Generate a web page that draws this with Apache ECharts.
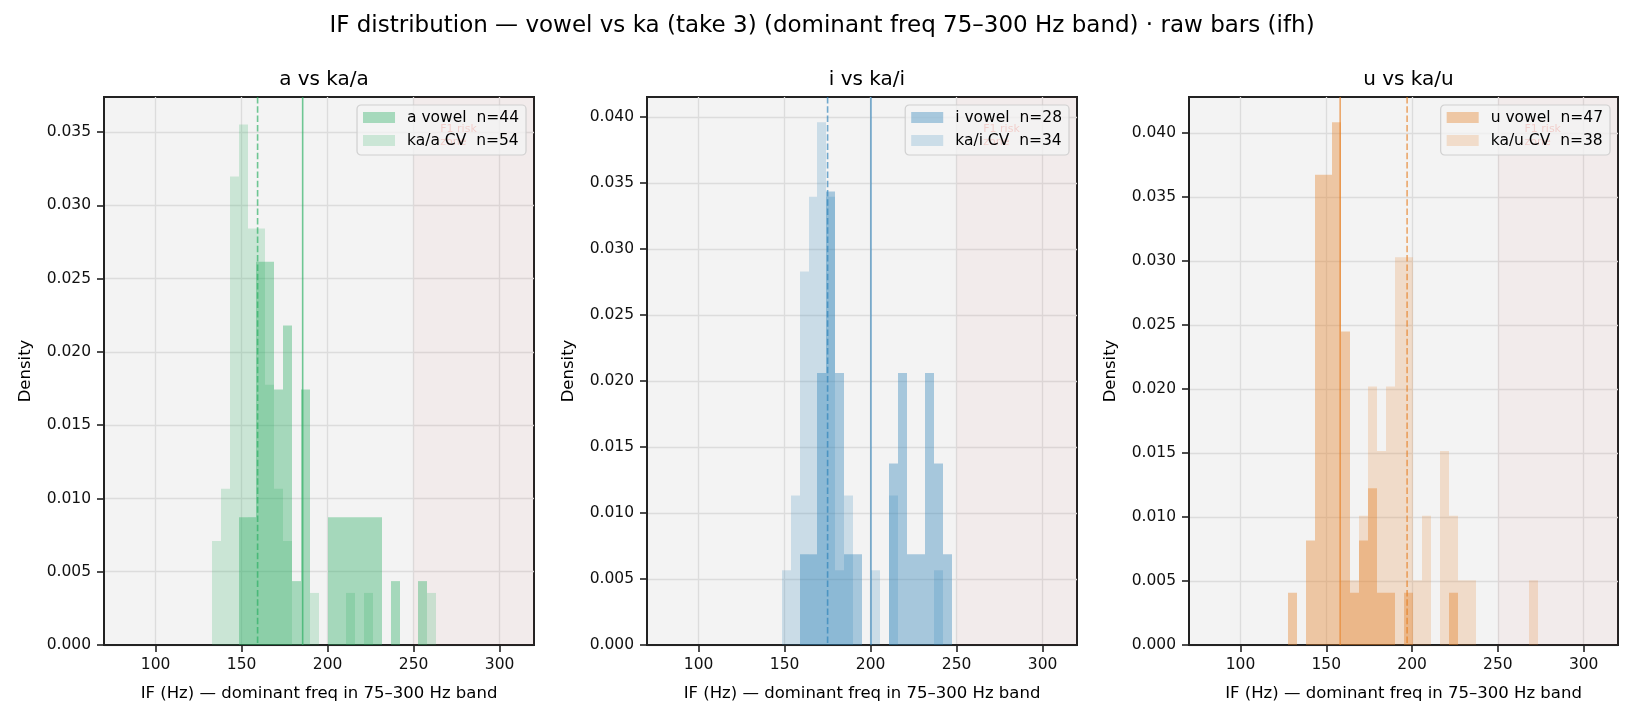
<!DOCTYPE html>
<html>
<head>
<meta charset="utf-8">
<title>IF distribution — vowel vs ka</title>
<script src="https://cdn.jsdelivr.net/npm/echarts@6/dist/echarts.min.js"></script>
<style>
  html, body { margin: 0; padding: 0; background: #fff; }
  #chart { width: 1634px; height: 719px; }
</style>
</head>
<body>
<div id="chart"></div>
<script>
// values
const suptitle = 'IF distribution — vowel vs ka (take 3) (dominant freq 75–300 Hz band) · raw bars (ifh)';
const xLabel = 'IF (Hz) — dominant freq in 75–300 Hz band';
const xRange = [70, 320];
const xTicks = [100, 150, 200, 250, 300];
const f1Zone = [250, 320];
const f1LabelX = 265.5;
const f1LabelFrac = 0.9525;   // top of the label, as a share of the y range

// a vs ka/a  (25 bins)
const aBinRange = [132.6, 262.9];
const aVowelCounts = [0, 0, 0, 2, 2, 6, 6, 4, 5, 1, 4, 0, 0, 2, 2, 2, 2, 2, 2, 0, 1, 0, 0, 1, 0];
const kaACounts    = [2, 3, 9, 10, 8, 8, 5, 3, 2, 0, 0, 1, 0, 0, 0, 1, 0, 1, 0, 0, 0, 0, 0, 0, 1];
const aMedians = [185.5, 159.3];          // vowel, ka
const aYMax = 0.0374;
const aYTicks = [0, 0.005, 0.01, 0.015, 0.02, 0.025, 0.03, 0.035];

// i vs ka/i  (19 bins)
const iBinRange = [148.3, 247.1];
const iVowelCounts = [0, 0, 1, 1, 3, 5, 3, 1, 1, 0, 0, 0, 2, 3, 1, 1, 3, 2, 1];
const kaICounts    = [1, 2, 5, 6, 7, 6, 1, 2, 0, 0, 1, 0, 2, 0, 0, 0, 0, 1, 0];
const iMedians = [200.2, 175.0];
const iYMax = 0.0415;
const iYTicks = [0, 0.005, 0.01, 0.015, 0.02, 0.025, 0.03, 0.035, 0.04];

// u vs ka/u  (28 bins)
const uBinRange = [127.5, 273.45];
const uVowelCounts = [1, 0, 2, 9, 9, 10, 6, 1, 2, 3, 1, 1, 0, 1, 0, 0, 0, 0, 1, 0, 0, 0, 0, 0, 0, 0, 0, 0];
const kaUCounts    = [0, 0, 0, 0, 0, 0, 1, 1, 2, 4, 3, 4, 6, 6, 1, 2, 0, 3, 2, 1, 1, 0, 0, 0, 0, 0, 0, 1];
const uMedians = [158.1, 197.1];
const uYMax = 0.0428;
const uYTicks = [0, 0.005, 0.01, 0.015, 0.02, 0.025, 0.03, 0.035, 0.04];

const FONT = 'DejaVu Sans';
const W = 1634;
const TOP = 97, HEIGHT = 548;

const panels = [
  { title: 'a vs ka/a', left: 104, width: 430, rgb: '39,174,96', range: aBinRange,
    vowel: aVowelCounts, ka: kaACounts, medians: aMedians, yMax: aYMax, yTicks: aYTicks,
    names: ['a vowel  n=44', 'ka/a CV  n=54'] },
  { title: 'i vs ka/i', left: 647, width: 430, rgb: '41,128,185', range: iBinRange,
    vowel: iVowelCounts, ka: kaICounts, medians: iMedians, yMax: iYMax, yTicks: iYTicks,
    names: ['i vowel  n=28', 'ka/i CV  n=34'] },
  { title: 'u vs ka/u', left: 1189, width: 429, rgb: '230,126,34', range: uBinRange,
    vowel: uVowelCounts, ka: kaUCounts, medians: uMedians, yMax: uYMax, yTicks: uYTicks,
    names: ['u vowel  n=47', 'ka/u CV  n=38'] }
];

// density histogram: count / (n * binWidth)
function histRows(range, counts) {
  const w = (range[1] - range[0]) / counts.length;
  const n = counts.reduce((s, c) => s + c, 0);
  const rows = [];
  counts.forEach((c, k) => {
    if (c > 0) rows.push([range[0] + k * w, range[0] + (k + 1) * w, c / (n * w)]);
  });
  return rows;
}

function renderBar(params, api) {
  const p0 = api.coord([api.value(0), api.value(2)]);
  const p1 = api.coord([api.value(1), 0]);
  const x0 = Math.round(p0[0]), x1 = Math.round(p1[0]);
  return {
    type: 'rect',
    shape: { x: x0, y: p0[1], width: x1 - x0, height: p1[1] - p0[1] },
    style: { fill: api.visual('color') }
  };
}

function renderZone(params, api) {
  const cs = params.coordSys;
  const xa = api.coord([api.value(0), 0])[0];
  const xb = api.coord([api.value(1), 0])[0];
  const t = api.coord([api.value(2), api.value(3)]);
  return {
    type: 'group',
    children: [
      { type: 'rect', shape: { x: xa, y: cs.y, width: xb - xa, height: cs.height },
        style: { fill: 'rgba(231,76,60,0.045)' } },
      { type: 'text', x: t[0], y: t[1],
        style: { text: 'F1 risk\nzone', fill: '#e74c3c', fontSize: 11,
                 fontFamily: FONT, align: 'left', verticalAlign: 'top', lineHeight: 12.5 } }
    ]
  };
}

function renderMedian(params, api) {
  const cs = params.coordSys;
  const x = api.coord([api.value(0), 0])[0];
  const dashed = api.value(1) === 1;
  return {
    type: 'line',
    shape: { x1: x, y1: cs.y, x2: x, y2: cs.y + cs.height },
    style: { stroke: api.visual('color'), lineWidth: 1.6, lineDash: dashed ? [6.5, 2.8] : null }
  };
}

const grid = [], xAxis = [], yAxis = [], legend = [], series = [];
const title = [{
  text: suptitle, left: W / 2, top: 10, textAlign: 'center',
  textStyle: { fontFamily: FONT, fontSize: 23, fontWeight: 'normal', color: '#000' }
}];

panels.forEach((p, i) => {
  grid.push({ left: p.left, top: TOP, width: p.width, height: HEIGHT, show: true,
              backgroundColor: '#f3f3f3', borderColor: '#222', borderWidth: 2 });
  title.push({ text: p.title, left: p.left + p.width / 2, top: 65, textAlign: 'center',
               textStyle: { fontFamily: FONT, fontSize: 20, fontWeight: 'normal', color: '#000' } });
  xAxis.push({
    type: 'value', gridIndex: i, min: xRange[0], max: xRange[1],
    name: xLabel, nameLocation: 'middle', nameGap: 40,
    nameTextStyle: { fontFamily: FONT, fontSize: 16.5, color: '#000' },
    axisLine: { show: true, onZero: false, lineStyle: { color: '#222', width: 2 } },
    axisTick: { show: true, length: 7, customValues: xTicks, lineStyle: { color: '#222', width: 1.6 } },
    axisLabel: { customValues: xTicks, margin: 12, fontFamily: FONT, fontSize: 15.5, color: '#111' },
    splitLine: { show: true, lineStyle: { color: '#dcdcdc', width: 1.3 } }
  });
  yAxis.push({
    type: 'value', gridIndex: i, min: 0, max: p.yMax, interval: 0.005,
    name: 'Density', nameLocation: 'middle', nameGap: 70,
    nameTextStyle: { fontFamily: FONT, fontSize: 16.5, color: '#000' },
    axisLine: { show: true, onZero: false, lineStyle: { color: '#222', width: 2 } },
    axisTick: { show: true, length: 7, customValues: p.yTicks, lineStyle: { color: '#222', width: 1.6 } },
    axisLabel: { customValues: p.yTicks, margin: 13, fontFamily: FONT, fontSize: 15.5, color: '#111',
                 formatter: v => v.toFixed(3) },
    splitLine: { show: true, lineStyle: { color: '#dcdcdc', width: 1.3 } }
  });
  legend.push({
    orient: 'vertical', right: W - (p.left + p.width - 8), top: 105,
    selectedMode: false, icon: 'rect', itemWidth: 32, itemHeight: 11, itemGap: 6,
    padding: [4, 7, 6, 6], backgroundColor: 'rgba(243,243,243,0.78)',
    borderColor: 'rgba(204,204,204,0.9)', borderWidth: 1.2, borderRadius: 4,
    textStyle: { fontFamily: FONT, fontSize: 15.5, color: '#000', lineHeight: 17, padding: [0, 0, 0, 7] },
    data: p.names
  });

  series.push({
    type: 'custom', name: 'zone' + i, xAxisIndex: i, yAxisIndex: i, silent: true,
    renderItem: renderZone, encode: { x: [0, 1], y: 3 },
    data: [[f1Zone[0], f1Zone[1], f1LabelX, f1LabelFrac * p.yMax]]
  });
  series.push({
    type: 'custom', name: p.names[0], xAxisIndex: i, yAxisIndex: i, clip: true,
    itemStyle: { color: 'rgba(' + p.rgb + ',0.38)' },
    renderItem: renderBar, encode: { x: [0, 1], y: 2 },
    data: histRows(p.range, p.vowel)
  });
  series.push({
    type: 'custom', name: p.names[1], xAxisIndex: i, yAxisIndex: i, clip: true,
    itemStyle: { color: 'rgba(' + p.rgb + ',0.2)' },
    renderItem: renderBar, encode: { x: [0, 1], y: 2 },
    data: histRows(p.range, p.ka)
  });
  series.push({
    type: 'custom', name: 'median' + i, xAxisIndex: i, yAxisIndex: i, silent: true,
    itemStyle: { color: 'rgba(' + p.rgb + ',0.65)' },
    renderItem: renderMedian, encode: { x: 0 },
    data: [[p.medians[0], 0], [p.medians[1], 1]]
  });
});

const chart = echarts.init(document.getElementById('chart'), null, { renderer: 'canvas' });
chart.setOption({
  animation: false,
  backgroundColor: '#ffffff',
  title, grid, xAxis, yAxis, legend, series
});
</script>
</body>
</html>
